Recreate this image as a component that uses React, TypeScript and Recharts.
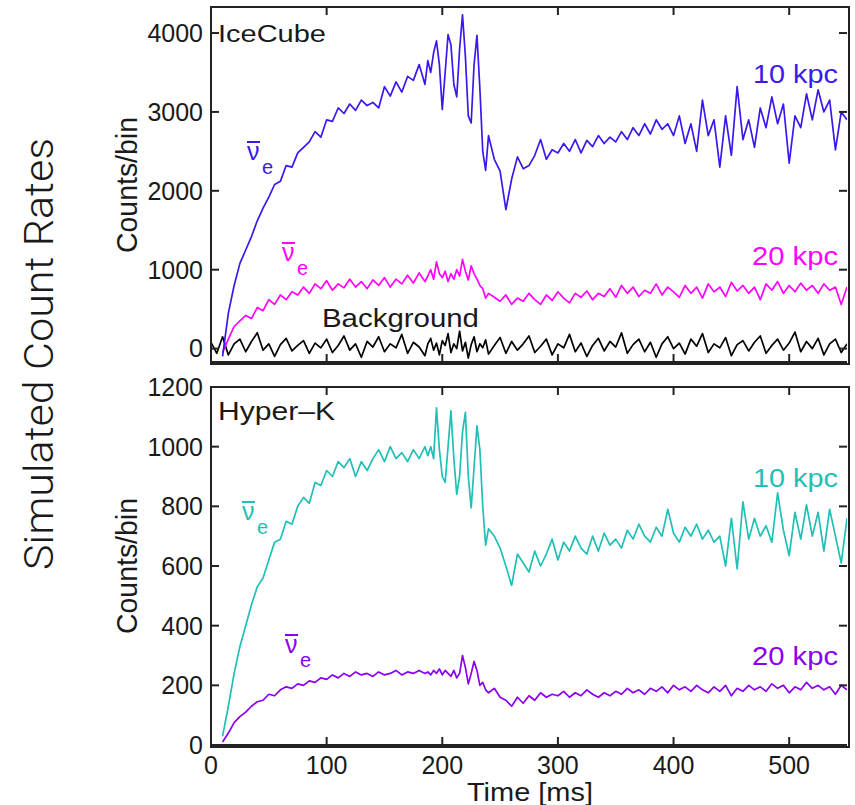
import React from "react";
import { LineChart, Line, XAxis, YAxis } from "recharts";

// time grid (ms); finer steps across the 190-240 ms oscillations
const TIME_MS = [
  0, 5, 10, 15, 20, 25, 30, 35, 40, 45, 50, 55, 60, 65, 70, 75, 80, 85, 90, 95,
  100, 105, 110, 115, 120, 125, 130, 135, 140, 145, 150, 155, 160, 165, 170, 175, 180, 185,
  187.5, 190, 192.5, 195, 197.5, 200, 202.5, 205, 207.5, 210, 212.5, 215, 217.5, 220,
  222.5, 225, 227.5, 230, 232.5, 235, 237.5, 240,
  245, 250, 255, 260, 265, 270, 275, 280, 285, 290, 295, 300, 305, 310, 315, 320, 325, 330,
  335, 340, 345, 350, 355, 360, 365, 370, 375, 380, 385, 390, 395, 400, 405, 410, 415, 420,
  425, 430, 435, 440, 445, 450, 455, 460, 465, 470, 475, 480, 485, 490, 495, 500, 505, 510,
  515, 520, 525, 530, 535, 540, 545, 550,
];

const ICECUBE_10KPC = [
  null, null, -100, 450, 800, 1080, 1250, 1420, 1620, 1780, 1920, 2080, 2120, 2320, 2300, 2480,
  2550, 2620, 2750, 2680, 2900, 2880, 3050, 2980, 3100, 3020, 3150, 3080, 3120, 3050, 3320, 3200,
  3380, 3250, 3450, 3400, 3600, 3350,
  3650, 3500, 3750, 3900, 3600, 3030, 3500, 3980, 3850, 3350, 3190, 3800, 4230, 3700, 2950, 2860,
  3600, 3970, 3300, 2500, 2260, 2700,
  2400, 2250, 1760, 2150, 2430, 2280, 2320, 2450, 2650, 2400, 2520, 2480, 2600, 2500, 2650, 2480,
  2640, 2560, 2700, 2600, 2680, 2620, 2750, 2650, 2800, 2700, 2850, 2720, 2900, 2780, 2850, 2700,
  2950, 2600, 2850, 2500, 3150, 2700, 2900, 2300, 2950, 2450, 3320, 2650, 2900, 2550, 3050, 2800,
  3190, 2850, 3100, 2350, 2950, 2800, 3230, 2900, 3280, 3000, 3150, 2520, 3000, 2900,
];

const ICECUBE_20KPC = [
  null, null, -50, 120, 280, 350, 420, 380, 520, 480, 620, 560, 680, 620, 720, 680, 780, 700,
  820, 760, 860, 740, 820, 770, 880, 780, 850, 760, 870, 800, 900, 780, 880, 820, 930, 830, 960, 850,
  920, 1000, 880, 1100, 950, 900, 980, 850, 950, 880, 1000, 920, 1130, 980, 870, 1050, 950, 880,
  800, 760, 640, 700,
  650, 600, 680, 560, 640, 600, 700, 620, 560, 680, 610, 720, 640, 580, 700, 650, 730, 620, 700, 660,
  760, 650, 800, 700, 780, 660, 740, 700, 820, 680, 780, 720, 650, 800, 700, 780, 640, 820, 720, 780,
  660, 840, 730, 800, 700, 780, 620, 820, 740, 850, 700, 800, 720, 830, 740, 800, 700, 820, 740, 780,
  560, 780,
];

const ICECUBE_BACKGROUND = [
  80, -60, 150, -80, 60, 120, -40, 90, 200, -20, 60, -100, 50, 130, -30, 40, 100, -60, 70, 10,
  120, -50, 40, 160, -20, 60, -110, 90, 20, 150, -40, 60, 10, 180, -60, 80, 20, -90,
  60, 130, -20, 70, -80, 100, 40, 190, -50, 60, 0, 220, -30, 80, -120, 50, 150, -40, 60, 10,
  110, -70,
  40, 140, -60, 90, -20, 60, 160, -50, 30, 120, -80, 60, 10, 180, -40, 70, -100, 40, 130, -30,
  90, 20, 200, -60, 50, 120, -40, 80, -110, 60, 150, 0, 70, -70, 120, 30, 190, -50, 60, 10,
  140, -90, 50, 100, -30, 80, 160, -60, 40, 120, -20, 70, 210, -40, 90, 0, 130, -80, 60, 120,
  -50, 60,
];

const HYPERK_10KPC = [
  null, null, 30, 130, 240, 330, 400, 470, 530, 560, 620, 680, 690, 750, 740, 800, 830, 810,
  880, 870, 920, 900, 950, 930, 960, 900, 950, 920, 960, 990, 950, 1000, 960, 980, 950, 990, 960, 1000,
  970, 1000, 960, 1130, 990, 900, 880, 1000, 1120, 960, 840, 900, 1050, 1115, 900, 795, 930, 1070,
  990, 800, 670, 725,
  700, 660, 600, 535, 640, 610, 580, 650, 600, 640, 690, 620, 680, 650, 700, 660, 640, 700, 650, 710,
  670, 690, 660, 720, 690, 740, 700, 680, 730, 700, 790, 710, 680, 730, 700, 740, 690, 720, 680, 700,
  600, 760, 590, 815, 690, 760, 700, 735, 680, 845, 720, 635, 780, 690, 805, 700, 780, 650, 790, 700,
  610, 760,
];

const HYPERK_20KPC = [
  null, null, 10, 40, 75, 95, 110, 130, 145, 150, 170, 165, 185, 195, 190, 205, 200, 215, 210, 225,
  220, 235, 225, 240, 230, 245, 235, 240, 230, 245, 235, 240, 250, 235, 245, 240, 250, 240,
  245, 235, 250, 240, 255, 235, 250, 240, 230, 250, 225, 240, 300, 260, 205, 240, 280, 250, 200, 210,
  185, 175,
  190, 160, 150, 130, 160, 140, 165, 150, 175, 160, 170, 165, 180, 160, 175, 165, 185, 170, 160, 175,
  165, 180, 170, 190, 175, 185, 170, 190, 180, 195, 175, 200, 185, 195, 180, 200, 185, 175, 195, 180,
  200, 165, 190, 180, 200, 185, 195, 180, 205, 190, 200, 175, 195, 185, 210, 190, 200, 185, 195, 170,
  200, 185,
];

const TIME_TICKS = [0, 100, 200, 300, 400, 500];
const ICECUBE_TICKS = [0, 1000, 2000, 3000, 4000];
const HYPERK_TICKS = [0, 200, 400, 600, 800, 1000, 1200];

const FONT = '"Liberation Sans", Arial, Helvetica, sans-serif';
const INK = "#1a1a1a";
const AXIS = "#222";
const BLUE = "#3c18ee";
const MAGENTA = "#ff00ff";
const CYAN = "#20bfb7";
const PURPLE = "#8a00ee";

// plot geometry shared by both panels
const X_MAX = 550;
const PLOT_L = 211;
const PLOT_W = 636;
const TICK_PX = 8;

const ICE_BOX = { top: 7, h: 355, lo: -170, hi: 4330 };
const HK_BOX = { top: 387, h: 358, lo: 0, hi: 1200 };

const iceData = TIME_MS.map((t, i) => ({
  t,
  near: ICECUBE_10KPC[i],
  far: ICECUBE_20KPC[i],
  bg: ICECUBE_BACKGROUND[i],
}));

const hkData = TIME_MS.map((t, i) => ({
  t,
  near: HYPERK_10KPC[i],
  far: HYPERK_20KPC[i],
}));

const blank = () => "";

function Panel({ data, series, box, yTicks, height, top, showTime }) {
  const tickStyle = { fill: INK, fontSize: 25, fontFamily: FONT };
  return (
    <div style={{ position: "absolute", left: 0, top }}>
      <LineChart
        width={855}
        height={height}
        data={data}
        margin={{ top: box.top - top, right: 855 - PLOT_L - PLOT_W, bottom: 0, left: PLOT_L - 60 }}
      >
        <XAxis
          dataKey="t"
          type="number"
          domain={[0, X_MAX]}
          ticks={TIME_TICKS}
          interval={0}
          allowDataOverflow
          height={showTime ? 60 : 8}
          tickSize={-TICK_PX}
          tickMargin={showTime ? 19 : 0}
          tickFormatter={showTime ? undefined : blank}
          stroke={AXIS}
          strokeWidth={2}
          tick={tickStyle}
        />
        <YAxis
          type="number"
          width={60}
          domain={[box.lo, box.hi]}
          ticks={yTicks}
          interval={0}
          allowDataOverflow
          tickSize={-TICK_PX}
          tickMargin={16}
          stroke={AXIS}
          strokeWidth={2}
          tick={tickStyle}
        />
        {series.map((s) => (
          <Line
            key={s.key}
            dataKey={s.key}
            stroke={s.color}
            strokeWidth={1.7}
            strokeLinejoin="round"
            dot={false}
            activeDot={false}
            isAnimationActive={false}
          />
        ))}
      </LineChart>
      {/* box outline of the plot area */}
      <div
        style={{
          position: "absolute",
          left: PLOT_L - 1,
          top: box.top - top - 1,
          width: PLOT_W,
          height: box.h,
          border: `2px solid ${AXIS}`,
          pointerEvents: "none",
        }}
      />
    </div>
  );
}

// inward ticks on the mirrored top / right sides
function MirrorTicks({ box, yTicks }) {
  const xOf = (t) => PLOT_L + (t / X_MAX) * PLOT_W;
  const yOf = (v) => box.top + ((box.hi - v) / (box.hi - box.lo)) * box.h;
  const right = PLOT_L + PLOT_W;
  return (
    <g stroke={AXIS} strokeWidth={2} fill="none">
      {TIME_TICKS.map((t) => (
        <line key={"x" + t} x1={xOf(t)} x2={xOf(t)} y1={box.top} y2={box.top + TICK_PX} />
      ))}
      {yTicks.map((v) => (
        <line key={"y" + v} x1={right} x2={right - TICK_PX} y1={yOf(v)} y2={yOf(v)} />
      ))}
    </g>
  );
}

function NuBar({ x, y, color }) {
  // anti-neutrino symbol: nu with bar, subscript e
  return (
    <g fill={color} fontFamily={FONT}>
      <text x={x} y={y} fontSize={25}>ν</text>
      <line x1={x} x2={x + 13} y1={y - 18} y2={y - 18} stroke={color} strokeWidth={2} />
      <text x={x + 15} y={y + 14} fontSize={20}>e</text>
    </g>
  );
}

export default function App() {
  return (
    <div style={{ position: "absolute", left: 0, top: 0, width: 855, height: 805, background: "#fff" }}>
      <Panel
        data={iceData}
        series={[
          { key: "bg", color: "#000" },
          { key: "far", color: MAGENTA },
          { key: "near", color: BLUE },
        ]}
        box={ICE_BOX}
        yTicks={ICECUBE_TICKS}
        height={370}
        top={0}
        showTime={false}
      />
      <Panel
        data={hkData}
        series={[
          { key: "far", color: PURPLE },
          { key: "near", color: CYAN },
        ]}
        box={HK_BOX}
        yTicks={HYPERK_TICKS}
        height={440}
        top={365}
        showTime={true}
      />
      <svg
        width={855}
        height={805}
        style={{ position: "absolute", left: 0, top: 0, pointerEvents: "none" }}
        fontFamily={FONT}
      >
        <MirrorTicks box={ICE_BOX} yTicks={ICECUBE_TICKS} />
        <MirrorTicks box={HK_BOX} yTicks={HYPERK_TICKS} />

        <text transform="translate(53,354) rotate(-90)" textAnchor="middle" fontSize={40} fill={INK}
          fontFamily='Roboto, "Liberation Sans", Arial, sans-serif' fontWeight={300}
          textLength={432} lengthAdjust="spacingAndGlyphs">
          Simulated Count Rates
        </text>
        <text transform="translate(137,185) rotate(-90)" textAnchor="middle" fontSize={30} fill={INK}
          textLength={136} lengthAdjust="spacingAndGlyphs">
          Counts/bin
        </text>
        <text transform="translate(137,566) rotate(-90)" textAnchor="middle" fontSize={30} fill={INK}
          textLength={136} lengthAdjust="spacingAndGlyphs">
          Counts/bin
        </text>
        <text x={530} y={801} textAnchor="middle" fontSize={25} fill={INK} textLength={126} lengthAdjust="spacingAndGlyphs">
          Time [ms]
        </text>

        <text x={218} y={42} fontSize={23} fill={INK} textLength={108} lengthAdjust="spacingAndGlyphs">IceCube</text>
        <text x={218} y={420} fontSize={25} fill={INK} textLength={117} lengthAdjust="spacingAndGlyphs">Hyper–K</text>

        <text x={753} y={83} fontSize={25} fill={BLUE} textLength={85} lengthAdjust="spacingAndGlyphs">10 kpc</text>
        <text x={752} y={265} fontSize={25} fill={MAGENTA} textLength={86} lengthAdjust="spacingAndGlyphs">20 kpc</text>
        <text x={753} y={487} fontSize={25} fill={CYAN} textLength={85} lengthAdjust="spacingAndGlyphs">10 kpc</text>
        <text x={752} y={665} fontSize={25} fill={PURPLE} textLength={86} lengthAdjust="spacingAndGlyphs">20 kpc</text>

        <NuBar x={247} y={160} color={BLUE} />
        <NuBar x={282} y={261} color={MAGENTA} />
        <NuBar x={242} y={520} color={CYAN} />
        <NuBar x={285} y={653} color={PURPLE} />

        <text x={322} y={327} fontSize={25} fill={INK} textLength={157} lengthAdjust="spacingAndGlyphs">Background</text>
      </svg>
    </div>
  );
}
